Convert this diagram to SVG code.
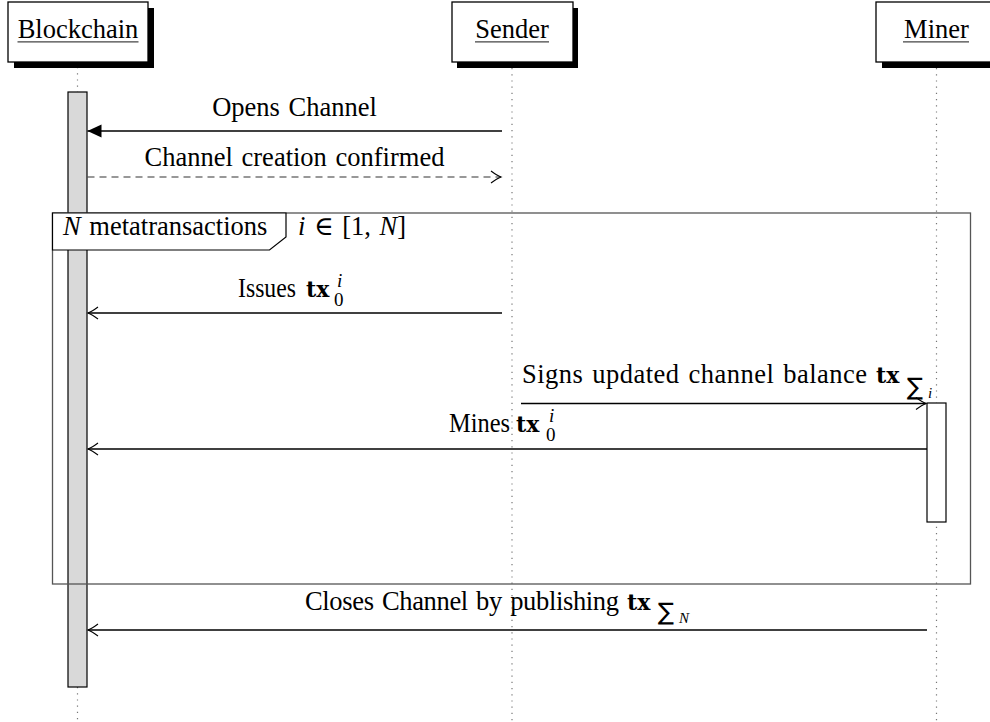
<svg xmlns="http://www.w3.org/2000/svg" width="990" height="722" viewBox="0 0 990 722">
<style>
text{font-family:"Liberation Serif","DejaVu Serif",serif;font-size:26.5px;fill:#000;word-spacing:2px}
.bx{fill:#fff;stroke:#000;stroke-width:1.3}
.sh{fill:#000}
.ul{stroke:#444;stroke-width:1.3}
.life{stroke:#777;stroke-width:1.2;stroke-dasharray:1.2 5;fill:none}
.msg{stroke:#000;stroke-width:1.3;fill:none}
.dash{stroke:#333;stroke-width:1.2;fill:none;stroke-dasharray:7 5}
.b{font-family:"DejaVu Serif","Liberation Serif",serif;font-weight:bold;font-size:22px}
.it{font-style:italic}
.sc{font-size:19px}
.sum{font-family:"DejaVu Sans","Noto Sans",sans-serif;font-size:24px}
.ss{font-size:15px}
</style>
<defs>
<marker id="fill" markerUnits="userSpaceOnUse" markerWidth="16" markerHeight="16" viewBox="-15 -8 16 16" refX="0" refY="0" orient="auto">
<path d="M0 0 L-14 -6.5 L-14 6.5 Z" fill="#000"/>
</marker>
<marker id="open" markerUnits="userSpaceOnUse" markerWidth="14" markerHeight="16" viewBox="-12 -8 14 16" refX="0" refY="0" orient="auto">
<path d="M-10 -6 Q-4 -1.5 0 0 Q-4 1.5 -10 6" fill="none" stroke="#000" stroke-width="1.1"/>
</marker>
</defs>

<g id="lifelines">
<line class="life" x1="77.5" y1="67" x2="77.5" y2="722"/>
<line class="life" x1="512" y1="68" x2="512" y2="722"/>
<line class="life" x1="936.5" y1="68" x2="936.5" y2="722"/>
</g>

<g id="blockchain">
<rect class="sh" x="14" y="8" width="140" height="60"/>
<rect class="bx" x="8" y="2" width="140" height="60"/>
<text x="78" y="38" text-anchor="middle">Blockchain</text>
<line class="ul" x1="17.5" y1="41.8" x2="138.5" y2="41.8"/>
</g>

<g id="sender">
<rect class="sh" x="457" y="8" width="121" height="60"/>
<rect class="bx" x="452" y="2" width="121" height="60"/>
<text x="512" y="38" text-anchor="middle">Sender</text>
<line class="ul" x1="475" y1="41.8" x2="549" y2="41.8"/>
</g>

<g id="miner">
<rect class="sh" x="882" y="8" width="124" height="60"/>
<rect class="bx" x="876" y="2" width="124" height="60"/>
<text x="936.5" y="38" text-anchor="middle">Miner</text>
<line class="ul" x1="903" y1="41.8" x2="969" y2="41.8"/>
</g>

<g id="blockchain-activation">
<rect x="68" y="92" width="19" height="595" fill="#d9d9d9" stroke="#000" stroke-width="1.2"/>
</g>

<g id="miner-activation">
<rect x="927" y="403" width="19" height="119" fill="#fff" stroke="#000" stroke-width="1.2"/>
</g>

<g id="loop-frame">
<rect x="52.5" y="213" width="918" height="371" fill="none" stroke="#555" stroke-width="1.3"/>
<path d="M52.5 213 H286 V237 L269.5 250 H52.5 Z" fill="#fff" stroke="#000" stroke-width="1.2"/>
<text x="63" y="235"><tspan class="it">N</tspan> metatransactions</text>
<text x="298" y="235"><tspan class="it">i</tspan> ∈ [1, <tspan class="it">N</tspan>]</text>
</g>

<g id="connectors">
<line class="msg" x1="502" y1="131" x2="87.5" y2="131" marker-end="url(#fill)"/>
<line class="dash" x1="87.5" y1="177" x2="501" y2="177" marker-end="url(#open)"/>
<line class="msg" x1="502" y1="313" x2="88" y2="313" marker-end="url(#open)"/>
<line class="msg" x1="521" y1="403.5" x2="926" y2="403.5" marker-end="url(#open)"/>
<line class="msg" x1="927" y1="449" x2="88" y2="449" marker-end="url(#open)"/>
<line class="msg" x1="927" y1="630" x2="88" y2="630" marker-end="url(#open)"/>
</g>

<g id="labels">
<text x="294.5" y="116" text-anchor="middle">Opens Channel</text>
<text x="294.5" y="166" text-anchor="middle">Channel creation confirmed</text>
<text x="238" y="297"><tspan textLength="58" lengthAdjust="spacingAndGlyphs">Issues</tspan> <tspan class="b" x="306">tx</tspan><tspan class="sc it" x="337" y="287">i</tspan><tspan class="sc" x="334" y="306">0</tspan></text>
<text x="522" y="383"><tspan textLength="345" lengthAdjust="spacing">Signs updated channel balance</tspan> <tspan class="b" x="876">tx</tspan><tspan class="sum" x="907" y="395">∑</tspan><tspan class="ss it" x="928" y="398">i</tspan></text>
<text x="449" y="432"><tspan textLength="61" lengthAdjust="spacingAndGlyphs">Mines</tspan> <tspan class="b" x="516">tx</tspan><tspan class="sc it" x="549" y="422">i</tspan><tspan class="sc" x="546" y="441">0</tspan></text>
<text x="305" y="610"><tspan textLength="314" lengthAdjust="spacing">Closes Channel by publishing</tspan> <tspan class="b" x="627">tx</tspan><tspan class="sum" x="658" y="620">∑</tspan><tspan class="ss it" x="679" y="623">N</tspan></text>
</g>
</svg>
